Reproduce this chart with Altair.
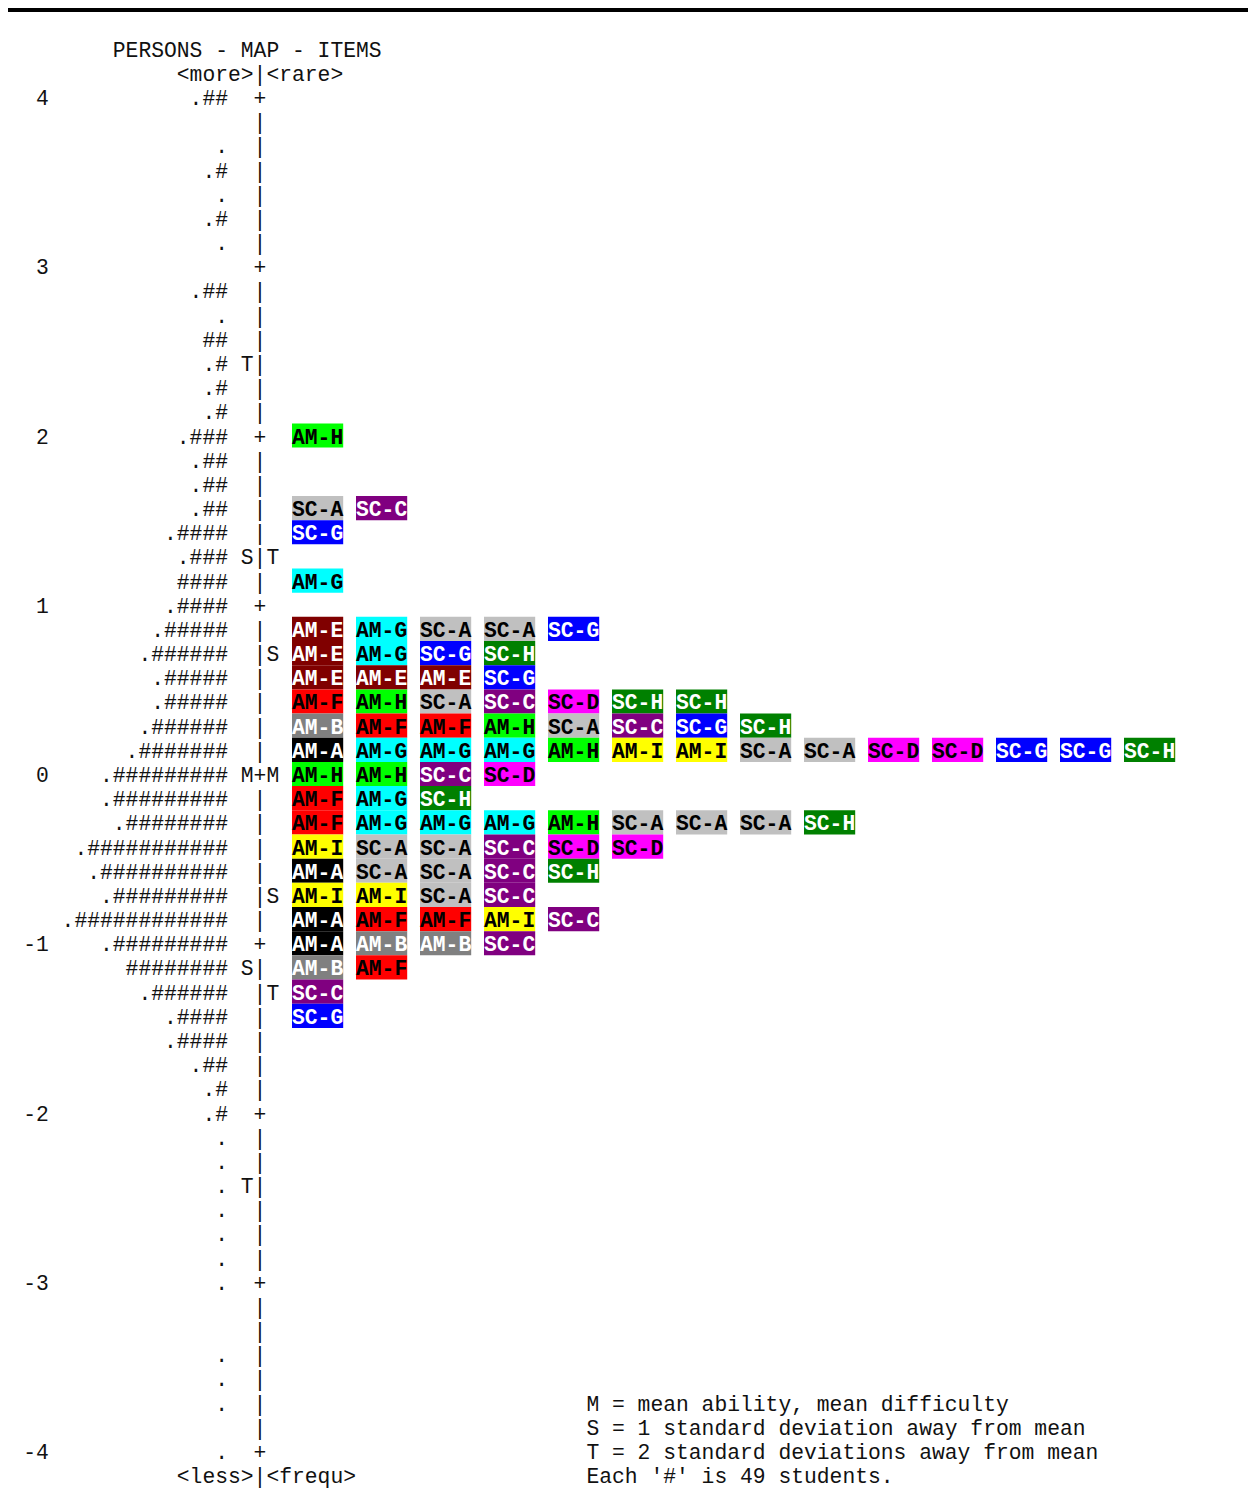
import altair as alt
import pandas as pd

# ---------------- data ----------------
SCALE_LABELS = ["4", "3", "2", "1", "0", "-1", "-2", "-3", "-4"]

# person column, one entry per map row, from +4 logits (top) down to -4 (bottom)
PERSONS = [
    ".##", "", ".", ".#", ".", ".#", ".",
    "", ".##", ".", "##", ".#", ".#", ".#",
    ".###", ".##", ".##", ".##", ".####", ".###", "####",
    ".####", ".#####", ".######", ".#####", ".#####", ".######", ".#######",
    ".#########", ".#########", ".########", ".###########", ".##########", ".#########", ".############",
    ".#########", "########", ".######", ".####", ".####", ".##", ".#",
    ".#", ".", ".", ".", ".", ".", ".",
    ".", "", "", ".", ".", ".", "",
    ".",
]

# items per map row (row index counted from the top row = +4)
ITEM_ROWS = {
    14: ["AM-H"],
    17: ["SC-A", "SC-C"],
    18: ["SC-G"],
    20: ["AM-G"],
    22: ["AM-E", "AM-G", "SC-A", "SC-A", "SC-G"],
    23: ["AM-E", "AM-G", "SC-G", "SC-H"],
    24: ["AM-E", "AM-E", "AM-E", "SC-G"],
    25: ["AM-F", "AM-H", "SC-A", "SC-C", "SC-D", "SC-H", "SC-H"],
    26: ["AM-B", "AM-F", "AM-F", "AM-H", "SC-A", "SC-C", "SC-G", "SC-H"],
    27: ["AM-A", "AM-G", "AM-G", "AM-G", "AM-H", "AM-I", "AM-I", "SC-A", "SC-A",
         "SC-D", "SC-D", "SC-G", "SC-G", "SC-H"],
    28: ["AM-H", "AM-H", "SC-C", "SC-D"],
    29: ["AM-F", "AM-G", "SC-H"],
    30: ["AM-F", "AM-G", "AM-G", "AM-G", "AM-H", "SC-A", "SC-A", "SC-A", "SC-H"],
    31: ["AM-I", "SC-A", "SC-A", "SC-C", "SC-D", "SC-D"],
    32: ["AM-A", "SC-A", "SC-A", "SC-C", "SC-H"],
    33: ["AM-I", "AM-I", "SC-A", "SC-C"],
    34: ["AM-A", "AM-F", "AM-F", "AM-I", "SC-C"],
    35: ["AM-A", "AM-B", "AM-B", "SC-C"],
    36: ["AM-B", "AM-F"],
    37: ["SC-C"],
    38: ["SC-G"],
}

PERSON_MARKS = {11: "T", 19: "S", 28: "M", 36: "S", 45: "T"}
ITEM_MARKS = {19: "T", 23: "S", 28: "M", 33: "S", 37: "T"}

ITEM_NAMES = ["AM-A", "AM-B", "AM-E", "AM-F", "AM-G", "AM-H", "AM-I",
              "SC-A", "SC-C", "SC-D", "SC-G", "SC-H"]
ITEM_FILL = ["#000000", "#808080", "#800000", "#FF0000", "#00FFFF", "#00FF00", "#FFFF00",
             "#C0C0C0", "#800080", "#FF00FF", "#0000FF", "#008000"]
ITEM_INK = ["#FFFFFF", "#FFFFFF", "#FFFFFF", "#000000", "#000000", "#000000", "#000000",
            "#000000", "#FFFFFF", "#000000", "#FFFFFF", "#FFFFFF"]

HEADER = "PERSONS - MAP - ITEMS"
TOP_LABEL = "<more>|<rare>"
BOTTOM_LABEL = "<less>|<frequ>"
NOTES = [
    "M = mean ability, mean difficulty",
    "S = 1 standard deviation away from mean",
    "T = 2 standard deviations away from mean",
    "Each '#' is 49 students.",
]

# ---------------- build tables ----------------
ROWS_PER_UNIT = 7


def logit(k):
    return 4 - k / ROWS_PER_UNIT


plain = []
plain.append(dict(col=-11, v=logit(-2), text=HEADER))
plain.append(dict(col=-6, v=logit(-1), text=TOP_LABEL))
plain.append(dict(col=-6, v=logit(len(PERSONS)), text=BOTTOM_LABEL))
for k, s in enumerate(PERSONS):
    if s:
        plain.append(dict(col=-2 - len(s), v=logit(k), text=s))
    plain.append(dict(col=0, v=logit(k), text="+" if k % ROWS_PER_UNIT == 0 else "|"))
for i, lab in enumerate(SCALE_LABELS):
    plain.append(dict(col=-16 - len(lab), v=logit(i * ROWS_PER_UNIT), text=lab))
for k, m in PERSON_MARKS.items():
    plain.append(dict(col=-1, v=logit(k), text=m))
for k, m in ITEM_MARKS.items():
    plain.append(dict(col=1, v=logit(k), text=m))
for i, line in enumerate(NOTES):
    plain.append(dict(col=26, v=logit(len(PERSONS) - 3 + i), text=line))
plain_df = pd.DataFrame(plain)

items = []
for k, names in ITEM_ROWS.items():
    for j, nm in enumerate(names):
        c0 = 3 + 5 * j
        items.append(dict(c0=c0, c1=c0 + 4, v=logit(k),
                          vt=logit(k - 0.5), vb=logit(k + 0.5), name=nm))
items_df = pd.DataFrame(items)

# ---------------- scales ----------------
W, H = 1240, 1495
CHAR = 12.8
xs = alt.Scale(domain=[-245.6 / CHAR, (W - 245.6) / CHAR], range=[0, W], nice=False, zero=False)
ROW_PX = 24.179
top_v = 4 + 89.0 / (ROWS_PER_UNIT * ROW_PX)
bot_v = 4 - (H - 89.0) / (ROWS_PER_UNIT * ROW_PX)
ys = alt.Scale(domain=[bot_v, top_v], nice=False, zero=False)

FONT = "Liberation Mono"
FS = 21.333

text_layer = alt.Chart(plain_df).mark_text(
    align="left", baseline="middle", font=FONT, fontSize=FS, color="#111111", dy=2
).encode(
    x=alt.X("col:Q", scale=xs, axis=None),
    y=alt.Y("v:Q", scale=ys, axis=None),
    text="text:N",
)

box_layer = alt.Chart(items_df).mark_rect(strokeWidth=0).encode(
    x=alt.X("c0:Q", scale=xs, axis=None),
    x2="c1:Q",
    y=alt.Y("vt:Q", scale=ys, axis=None),
    y2="vb:Q",
    color=alt.Color("name:N", scale=alt.Scale(domain=ITEM_NAMES, range=ITEM_FILL), legend=None),
)

label_layer = alt.Chart(items_df).mark_text(
    align="left", baseline="middle", font=FONT, fontSize=FS, fontWeight="bold", dy=2
).encode(
    x=alt.X("c0:Q", scale=xs, axis=None),
    y=alt.Y("v:Q", scale=ys, axis=None),
    text="name:N",
    color=alt.Color("name:N", scale=alt.Scale(domain=ITEM_NAMES, range=ITEM_INK), legend=None),
)

top_rule = alt.Chart(plain_df).mark_rule(color="#000000", strokeWidth=4).encode(
    x=alt.value(0), x2=alt.value(W), y=alt.value(2)
)

chart = alt.layer(box_layer, label_layer, text_layer, top_rule).resolve_scale(
    color="independent"
).properties(
    width=W, height=H, padding=0, autosize=alt.AutoSizeParams(type="none")
).configure_view(stroke=None)

chart.save("out.html", embed_options={"renderer": "svg", "actions": False})
